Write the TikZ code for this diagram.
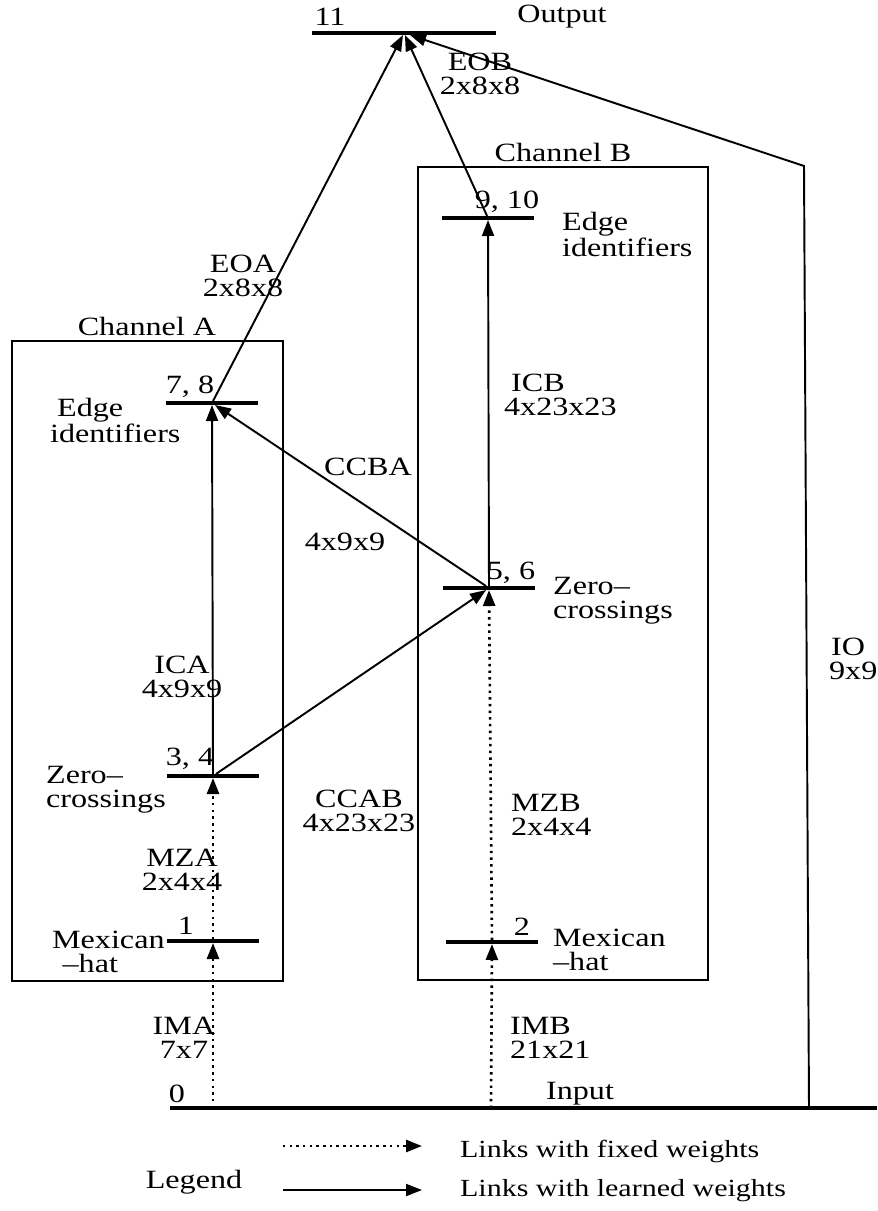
\documentclass[tikz,border=0pt]{standalone}
\usepackage{fontspec}
\setmainfont{Liberation Serif}[FakeStretch=1.22]
\usepackage{tikz}
\usetikzlibrary{arrows.meta, positioning}

\begin{document}
\begin{tikzpicture}[x=0.02cm, y=-0.02cm,
      every node/.style={font=\fontsize{15}{13.5}\selectfont, inner sep=1pt},
      bar/.style={fill=black, minimum width=1.84cm, minimum height=0.08cm, inner sep=0pt, outer sep=0pt},
      chanbox/.style={draw, line width=1pt},
      learned/.style={-{Triangle[length=0.32cm, width=0.24cm]}, line width=1.1pt},
      fixed/.style={-{Triangle[length=0.32cm, width=0.24cm]}, line width=1.5pt, dash pattern=on 1.4pt off 2.4pt},
      lefttext/.style={align=left, anchor=west}
    ]
      \useasboundingbox (0,0) rectangle (877,1211);
      % channel boxes
      \draw[chanbox] (12,341) rectangle (283,981);
      \draw[chanbox] (418,167) rectangle (708,980);
      \node (chA) at (147,326) {Channel A};
      \node (chB) at (563,152) {Channel B};

      % layers
      \node[bar, minimum width=3.68cm] (out) at (404,33) {};
      \node[bar] (eB) at (488,218) {};
      \node[bar] (eA) at (212,403) {};
      \node[bar] (zB) at (489,588) {};
      \node[bar] (zA) at (213,776) {};
      \node[bar] (mA) at (213,941) {};
      \node[bar] (mB) at (492,942) {};
      \node[bar, minimum width=14.14cm] (inp) at (523.5,1108) {};
      \coordinate (inA) at (213,1108);
      \coordinate (inB) at (491,1108);
      \coordinate (ioIn) at (809,1108);
      \coordinate (ioTop) at (804,166);

      % layer labels
      \node (l11) at (330,17) {11};
      \node (lout) at (562,17) {Output};
      \node (l910) at (507,202) {9, 10};
      \node[lefttext] (tEB) at (560,234) {Edge\\identifiers};
      \node (l78) at (190,387) {7, 8};
      \node[lefttext] (tEA) at (48,420) {\hspace*{4pt}Edge\\identifiers};
      \node (l56) at (511,573) {5, 6};
      \node[lefttext] (tZB) at (551,601) {Zero–\\crossings};
      \node (l34) at (190,759) {3, 4};
      \node[lefttext] (tZA) at (44,790) {Zero–\\crossings};
      \node (l1) at (186,926) {1};
      \node[lefttext] (tMA) at (50,952) {Mexican\\\hspace*{6pt}–hat};
      \node (l2) at (522,927) {2};
      \node[lefttext] (tMB) at (551,950) {Mexican\\–hat};
      \node (l0) at (177,1094) {0};
      \node (linp) at (580,1094) {Input};

      % links
      \draw[fixed] (inA) -- (mA);
      \draw[fixed] (mA) -- (zA);
      \draw[learned] (zA) -- (eA);
      \draw[learned] (eA) -- (out);
      \draw[fixed] (inB) -- (mB);
      \draw[fixed] (mB) -- (zB);
      \draw[learned] (zB) -- (eB);
      \draw[learned] (eB) -- (out);
      \draw[learned] (zA) -- (zB);
      \draw[learned] (zB) -- (eA);
      \draw[learned] (ioIn) -- (ioTop) -- (out);

      % link labels
      \node[align=center] (kEOB) at (480,74) {EOB\\2x8x8};
      \node[align=center] (kEOA) at (243,276) {EOA\\2x8x8};
      \node (kCCBA) at (368,467) {CCBA};
      \node (kCCBAs) at (345,542) {4x9x9};
      \node[align=center] (kIO) at (848,659) {IO\\\hspace*{6pt}9x9};
      \node[align=center] (kICA) at (182,677) {ICA\\4x9x9};
      \node[lefttext] (kICB) at (502,395) {\hspace*{4pt}ICB\\4x23x23};
      \node[align=center] (kCCAB) at (359,811) {CCAB\\4x23x23};
      \node[lefttext] (kMZB) at (509,815) {MZB\\2x4x4};
      \node[align=center] (kMZA) at (182,870) {MZA\\2x4x4};
      \node[align=center] (kIMA) at (184,1038) {IMA\\7x7};
      \node[lefttext] (kIMB) at (508,1038) {IMB\\21x21};

      % legend
      \node (leg) at (194,1182) {Legend};
      \coordinate (fixS) at (283,1146);
      \coordinate (fixE) at (422,1146);
      \coordinate (lrnS) at (283,1190);
      \coordinate (lrnE) at (422,1190);
      \draw[fixed] (fixS) -- (fixE);
      \draw[learned] (lrnS) -- (lrnE);
      \node[anchor=west, font=\fontsize{14}{13.5}\selectfont] (legF) at (458,1151) {Links with fixed weights};
      \node[anchor=west, font=\fontsize{14}{13.5}\selectfont] (legL) at (458,1191) {Links with learned weights};
    \end{tikzpicture}
\end{document}
